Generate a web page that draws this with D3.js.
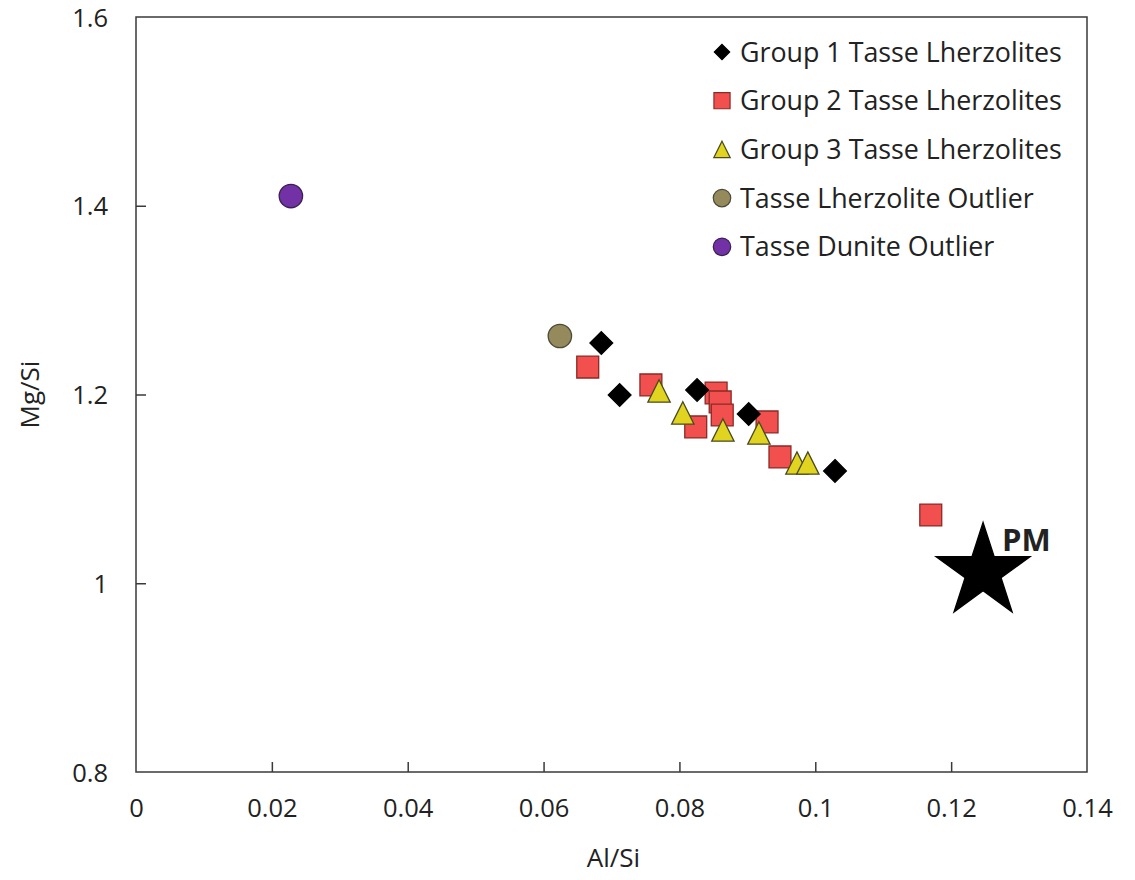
<!DOCTYPE html>
<html>
<head>
<meta charset="utf-8">
<script src="https://cdn.jsdelivr.net/npm/d3@7"></script>
<style>
  body { margin: 0; background: #fff; }
  svg text { font-family: "Open Sans", Lato, sans-serif; fill: #222; }
</style>
</head>
<body>
<svg id="chart" width="1135" height="880"></svg>
<script>
// Al/Si, Mg/Si pairs
var group1 = [[0.0685, 1.2546], [0.0712, 1.1995], [0.0826, 1.2048], [0.0902, 1.1793], [0.1029, 1.119]];
var group2 = [[0.0665, 1.2291], [0.0758, 1.2101], [0.0854, 1.2016], [0.0860, 1.1921], [0.0863, 1.1783],
              [0.0824, 1.1656], [0.0929, 1.1709], [0.0948, 1.1338], [0.1170, 1.0723]];
var group3 = [[0.0770, 1.2037], [0.0805, 1.1804], [0.0864, 1.1624], [0.0917, 1.1592], [0.0973, 1.1274], [0.0989, 1.1274]];
var lherzOutlier = [[0.0624, 1.262]];
var duniteOutlier = [[0.0228, 1.4103]];
var pm = [[0.1247, 1.012]];

var xTicks = [0, 0.02, 0.04, 0.06, 0.08, 0.1, 0.12, 0.14];
var yTicks = [0.8, 1, 1.2, 1.4, 1.6];
var legendLabels = ["Group 1 Tasse Lherzolites", "Group 2 Tasse Lherzolites", "Group 3 Tasse Lherzolites",
                    "Tasse Lherzolite Outlier", "Tasse Dunite Outlier"];

var svg = d3.select("#chart"),
    margin = {top: 17, right: 48, bottom: 108, left: 136},
    width = +svg.attr("width") - margin.left - margin.right,
    height = +svg.attr("height") - margin.top - margin.bottom,
    g = svg.append("g").attr("transform", "translate(" + margin.left + "," + margin.top + ")");

var x = d3.scaleLinear().domain([0, 0.14]).range([0, width]);
var y = d3.scaleLinear().domain([0.8, 1.6]).range([height, 0]);

// triangle centred on its bounding box
var triBox = {
  draw: function(ctx, size) {
    var s = Math.sqrt(size);
    ctx.moveTo(0, -s / 2);
    ctx.lineTo(s / 2, s / 2);
    ctx.lineTo(-s / 2, s / 2);
    ctx.closePath();
  }
};

// frame
g.append("rect")
    .attr("width", width)
    .attr("height", height)
    .attr("fill", "none")
    .attr("stroke", "#3a3a3a")
    .attr("stroke-width", 1.5);

var xAxis = g.append("g")
    .attr("transform", "translate(0," + height + ")")
    .call(d3.axisBottom(x).tickValues(xTicks).tickSize(-10).tickPadding(27).tickFormat(d3.format("")));
var yAxis = g.append("g")
    .call(d3.axisLeft(y).tickValues(yTicks).tickSize(-10).tickPadding(28).tickFormat(d3.format("")));

[xAxis, yAxis].forEach(function(a) {
  a.select(".domain").remove();
  a.selectAll(".tick line").attr("stroke", "#3a3a3a").attr("stroke-width", 1.5);
  a.selectAll(".tick text").attr("font-size", 25.5).attr("fill", "#222").attr("font-family", "'Open Sans', sans-serif");
});
xAxis.selectAll(".tick line").filter(function(d) { return d === 0 || d === 0.14; }).remove();
yAxis.selectAll(".tick line").filter(function(d) { return d === 0.8 || d === 1.6; }).remove();
yAxis.selectAll(".tick text").attr("dy", "0.36em");

svg.append("text")
    .attr("x", margin.left + x(0.07) + 2)
    .attr("y", 867)
    .attr("text-anchor", "middle")
    .attr("font-size", 26)
    .text("Al/Si");

svg.append("text")
    .attr("transform", "translate(39," + (margin.top + y(1.2)) + ") rotate(-90)")
    .attr("text-anchor", "middle")
    .attr("font-size", 26)
    .text("Mg/Si");

function plot(data, type, size, fill, stroke) {
  g.selectAll(null)
      .data(data)
    .enter().append("path")
      .attr("transform", function(d) { return "translate(" + x(d[0]) + "," + y(d[1]) + ")"; })
      .attr("d", d3.symbol().type(type).size(size))
      .attr("fill", fill)
      .attr("stroke", stroke)
      .attr("stroke-width", 1.3);
}

plot(group2, d3.symbolSquare, 480, "#f2504e", "#8a2a26");
plot(group3, triBox, 500, "#e0d420", "#4a4a20");
plot(group1, d3.symbolDiamond2, 330, "#000", "#000");
plot(lherzOutlier, d3.symbolCircle, 430, "#958a5c", "#4a4a3a");
plot(duniteOutlier, d3.symbolCircle, 430, "#7232a6", "#3a2050");
plot(pm, d3.symbolStar, 2750, "#000", "#000");

g.append("text")
    .attr("x", x(pm[0][0]) + 19)
    .attr("y", y(pm[0][1]) - 21)
    .attr("font-size", 31)
    .attr("font-weight", "bold")
    .attr("fill", "#111")
    .text("PM");

// legend
var legendSyms = [
  {type: d3.symbolDiamond2, size: 150, fill: "#000", stroke: "#000"},
  {type: d3.symbolSquare, size: 260, fill: "#f2504e", stroke: "#8a2a26"},
  {type: triBox, size: 270, fill: "#e0d420", stroke: "#4a4a20"},
  {type: d3.symbolCircle, size: 240, fill: "#958a5c", stroke: "#4a4a3a"},
  {type: d3.symbolCircle, size: 240, fill: "#7232a6", stroke: "#3a2050"}
];
var legend = svg.append("g").attr("transform", "translate(722,52)");
legendLabels.forEach(function(lbl, i) {
  var row = legend.append("g").attr("transform", "translate(0," + (i * 48.7) + ")");
  var s = legendSyms[i];
  row.append("path")
      .attr("d", d3.symbol().type(s.type).size(s.size))
      .attr("fill", s.fill)
      .attr("stroke", s.stroke)
      .attr("stroke-width", 1.2);
  row.append("text")
      .attr("x", 18)
      .attr("dy", "0.36em")
      .attr("font-size", 26.8)
      .text(lbl);
});
</script>
</body>
</html>
